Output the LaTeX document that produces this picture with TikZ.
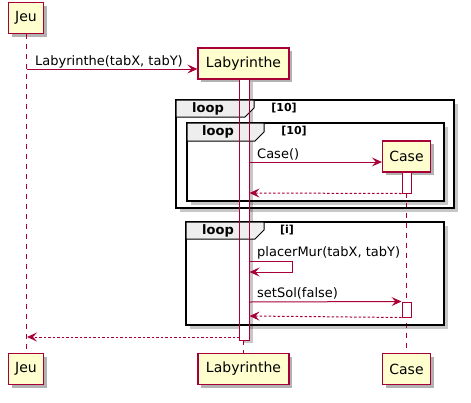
\documentclass[tikz,border=0pt]{standalone}
\usepackage{fontspec}
\setmainfont{DejaVu Sans}
\usetikzlibrary{arrows.meta,shadows}
\definecolor{pred}{HTML}{A80036}
\definecolor{pfill}{HTML}{FEFECE}
\definecolor{tabc}{HTML}{EEEEEE}
\tikzset{
  part/.style={draw=pred, fill=pfill, line width=1.2pt, inner sep=0pt, minimum height=31pt,
    font=\fontsize{14}{16}\selectfont,
    drop shadow={shadow xshift=3pt, shadow yshift=-3pt, opacity=0.3, fill=black}},
  life/.style={pred, line width=0.9pt, dash pattern=on 5pt off 5pt},
  actbar/.style={draw=pred, line width=1pt, fill=white, inner sep=0pt},
  msg/.style={pred, line width=1pt, -{Stealth[length=10pt,width=9pt,inset=4pt]}},
  ret/.style={msg, dash pattern=on 2.5pt off 2pt},
  lbl/.style={font=\fontsize{13}{15}\selectfont, inner sep=0pt, anchor=base west, text=black},
  frameshadow/.style={fill=black, opacity=0.22},
  framebox/.style={draw=black, line width=1.6pt},
  tabbox/.style={draw=black, line width=1pt, fill=tabc},
  looptxt/.style={font=\bfseries\fontsize{13}{15}\selectfont, inner sep=0pt},
  guardtxt/.style={font=\bfseries\fontsize{11}{13}\selectfont, inner sep=0pt},
}
\begin{document}
\begin{tikzpicture}[x=1pt,y=-1pt]
\useasboundingbox (0,0) rectangle (471,402);
\fill[white] (0,0) rectangle (471,402);

% frame shadows and backgrounds
\fill[frameshadow] (180,104) rectangle (458,212);
\fill[white] (176,100) rectangle (454,208);
\fill[frameshadow] (191,127) rectangle (448,205);
\fill[white] (187,123) rectangle (444,201);
\fill[frameshadow] (190,226) rectangle (448,329);
\fill[white] (186,222) rectangle (444,325);

% participants
\node[part, minimum width=35pt] (jeuT) at (26,18) {Jeu};
\node[part, minimum width=91pt] (labT) at (243.5,63.5) {Labyrinthe};
\node[part, minimum width=48pt] (caseT) at (406.5,156.5) {Case};
\node[part, minimum width=35pt] (jeuB) at (26,369) {Jeu};
\node[part, minimum width=91pt] (labB) at (243.5,369) {Labyrinthe};
\node[part, minimum width=48pt] (caseB) at (406.5,369) {Case};

% lifelines
\draw[life] (jeuT.south) -- (jeuB.north);
\draw[life] (labT.south) -- (labB.north);
\draw[life] (caseT.south) -- (caseB.north);

% activation bar shadow and fill of Labyrinthe
\fill[frameshadow] (242.5,82) rectangle (252.5,343);
\node[fill=white, inner sep=0pt, minimum width=10pt, minimum height=261pt] (labFill) at (244.5,209.5) {};

% loop frames
\draw[framebox] (176,100) rectangle (454,208);
\draw[tabbox] (176,100) -- (254,100) -- (254,108) -- (245,117) -- (176,117) -- cycle;
\node[looptxt] (l1) at (208,109) {loop};
\node[guardtxt] (g1) at (284,108) {[10]};

\draw[framebox] (187,123) rectangle (444,201);
\draw[tabbox] (187,123) -- (264,123) -- (264,132) -- (255,141) -- (187,141) -- cycle;
\node[looptxt] (l2) at (218,132) {loop};
\node[guardtxt] (g2) at (294,131) {[10]};

\draw[framebox] (186,222) rectangle (444,325);
\draw[tabbox] (186,222) -- (264,222) -- (264,230) -- (255,239) -- (186,239) -- cycle;
\node[looptxt] (l3) at (218,231) {loop};
\node[guardtxt] (g3) at (287,230) {[i]};

% Labyrinthe activation bar outline
\node[draw=pred, line width=1pt, inner sep=0pt, minimum width=10pt, minimum height=261pt] (labAct) at (244.5,209.5) {};

% Case activation bars
\node[actbar, minimum width=9pt, minimum height=21pt] (caseA1) at (406.5,182.5) {};
\node[actbar, minimum width=9pt, minimum height=15pt] (caseA2) at (406.5,309.5) {};

% messages
\coordinate (m1s) at (27,69);
\draw[msg] (m1s) -- (labT.west |- m1s);
\node[lbl] (t1) at (35,65) {Labyrinthe(tabX, tabY)};

\coordinate (m2s) at (249.5,162);
\draw[msg] (m2s) -- (caseT.west |- m2s);
\node[lbl] (t2) at (257,158) {Case()};

\coordinate (m3e) at (249.5,193);
\draw[ret] (caseA1.south west) -- (m3e);

\coordinate (m4s) at (249.5,261);
\coordinate (m4a) at (292,261);
\coordinate (m4b) at (292,272);
\coordinate (m4e) at (249.5,272);
\draw[msg] (m4s) -- (m4a) -- (m4b) -- (m4e);
\node[lbl] (t4) at (257,256) {placerMur(tabX, tabY)};

\coordinate (m5s) at (249.5,302);
\draw[msg] (m5s) -- (caseA2.north west);
\node[lbl] (t5) at (257,297) {setSol(false)};

\coordinate (m6e) at (249.5,316);
\draw[ret] (caseA2.south west) -- (m6e);

\coordinate (m7s) at (239.5,337);
\coordinate (m7e) at (27,337);
\draw[ret] (m7s) -- (m7e);
\end{tikzpicture}
\end{document}
